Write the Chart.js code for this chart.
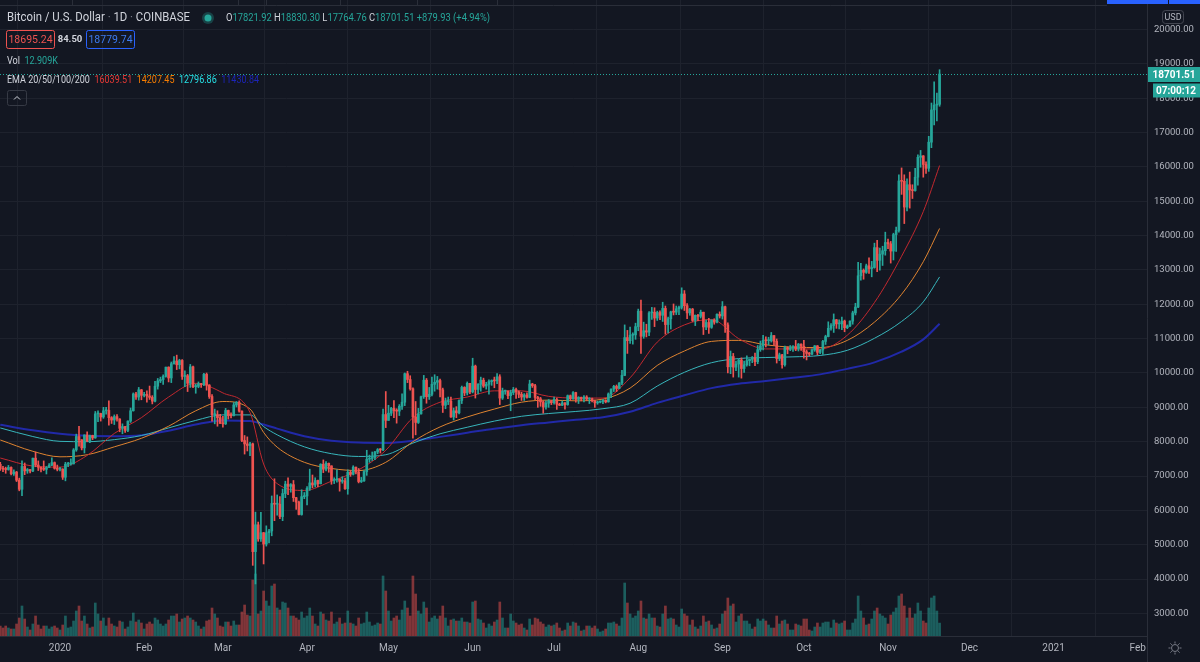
<!DOCTYPE html>
<html><head><meta charset="utf-8">
<script src="https://cdn.jsdelivr.net/npm/chart.js@4.4.0/dist/chart.umd.min.js"></script>
<style>html,body{margin:0;padding:0;background:#131722;overflow:hidden}canvas{display:block}</style>
</head><body>
<canvas id="c" width="1200" height="662"></canvas>
<script>
// ---- DATA (daily candles, BTC/USD Coinbase, 2019-12-10 .. 2020-11-20) ----
// day number of first candle, counted from 2020-01-01 = 0
const FIRST_DAY = -22;
const opens = [
 7340,7220,7200,7190,7250,7065,7115,6880,6615,7280,7150,7190,7145,7520,7320,7255,7200,7195,7250,7315,7390,7225,
 7195,7200,6965,7345,7355,7355,7760,8150,8055,7820,8195,8020,8180,8110,8810,8820,8720,8900,8910,8700,8630,8730,8660,8390,8440,8330,8600,8900,9390,9300,9510,
 9350,9380,9330,9290,9180,9615,9770,9810,9900,10170,9855,10270,10350,10240,10365,9900,9920,9700,10180,9600,9610,9690,9660,9960,9650,9315,8785,8790,8700,
 8530,8520,8910,8760,8755,9070,9150,8890,8035,7935,7890,7935,4800,5580,5170,5350,5020,5350,5400,6200,6180,6180,5820,6490,6765,6700,6750,6370,6240,5880,6400,
 6420,6640,6800,6740,6870,6775,7340,7200,7370,7295,6870,6890,6915,6845,6860,6630,7110,7050,7260,7120,6840,6860,7130,7490,7510,7540,7700,7770,7760,8790,
 8620,8830,8970,8900,8890,9030,9150,9980,9810,9540,8720,8560,8810,9310,9790,9310,9380,9670,9730,9780,9510,9060,9170,9180,8720,8900,8840,9200,9580,9420,9700,
 9450,10200,9520,9670,9790,9620,9670,9750,9780,9770,9890,9270,9470,9470,9340,9430,9520,9450,9380,9300,9360,9290,9680,9630,9290,9250,9160,9010,9120,9190,
 9135,9230,9090,9060,9130,9080,9340,9250,9430,9230,9290,9240,9300,9240,9250,9190,9130,9150,9170,9210,9160,9390,9530,9610,9550,9710,9930,11030,10940,11100,11110,
 11350,11800,11070,11230,11190,11750,11770,11600,11760,11680,11880,11410,11580,11780,11770,11870,11910,12300,11960,11750,11860,11530,11680,11650,11770,11340,11470,11330,11540,11480,11710,
 11660,11930,11400,10180,10480,10170,10260,10380,10130,10240,10360,10400,10440,10330,10680,10790,10950,10940,10940,11090,10920,10420,10530,10240,10740,10690,10730,10770,10700,10840,
 10780,10620,10570,10550,10670,10790,10600,10670,10920,11060,11300,11380,11550,11430,11430,11510,11320,11370,11510,11750,11920,12830,12990,12930,13120,13040,13070,13650,13280,13460,13560,
 13800,13760,13550,14030,14150,15590,15580,14830,15480,15330,15310,15700,16280,16320,16070,15960,16720,17660,17800,17821.92
];
const highs = [
 7400,7280,7260,7310,7270,7180,7135,6940,7440,7380,7220,7190,7520,7700,7440,7270,7440,7280,7360,7530,7410,7320,
 7250,7215,7400,7400,7500,7800,8220,8450,8060,8200,8290,8190,8190,8880,8900,8830,9000,9000,9190,8730,8780,8790,8670,8520,8450,8610,8980,9420,9440,9580,9520,
 9440,9480,9620,9340,9760,9840,9880,9950,10170,10180,10320,10480,10520,10400,10390,10060,9960,10250,10200,9680,9740,9700,9990,10000,9660,9370,8950,8900,8800,
 8740,8970,8920,8840,9140,9170,9190,8900,8180,8140,7980,7960,5950,5660,5940,5360,5550,5450,6420,6920,6450,6400,6620,6850,6950,6780,6870,6380,6270,6600,6520,
 6690,7200,7030,6950,6880,7360,7470,7420,7380,7300,6950,7180,6915,6980,6940,7180,7160,7300,7260,7220,6960,7160,7750,7610,7700,7720,7800,7800,8950,9460,
 9060,9000,9200,8960,9080,9390,10000,10050,9920,9570,9170,8970,9330,9930,9840,9580,9880,9950,9900,9820,9560,9270,9300,9300,8980,9020,9220,9620,9600,9740,9700,
 10430,10230,9690,9880,9850,9730,9800,9800,9880,9980,9950,9560,9500,9480,9500,9580,9560,9480,9440,9400,9420,9790,9700,9670,9320,9290,9190,9190,9230,9200,
 9300,9270,9120,9190,9140,9360,9360,9460,9440,9310,9300,9340,9340,9280,9270,9210,9180,9190,9230,9220,9420,9540,9640,9650,9720,10080,11400,11240,11340,11170,11450,
 11860,12120,11480,11420,11790,11910,11900,11800,11810,12060,11950,11630,11800,12010,11950,11950,12480,12400,12020,11880,11880,11690,11710,11830,11770,11540,11590,11550,11580,11720,11780,
 12080,11950,11460,10640,10570,10350,10400,10440,10350,10500,10400,10480,10580,10800,10930,11100,11050,11040,11180,11090,10990,10580,10540,10780,10760,10800,10800,10950,10860,10850,
 10950,10670,10600,10700,10800,10800,10690,10950,11100,11490,11440,11720,11560,11550,11630,11540,11400,11520,11800,12030,13220,13190,13030,13170,13350,13250,13780,13860,13640,13690,14100,
 13900,13830,14070,14250,15770,15970,15770,15650,15850,15480,15960,16350,16480,16330,16150,16890,17860,18480,18150,18830.30
];
const lows = [
 7160,7130,7080,7170,7030,7015,6840,6570,6430,7040,7080,7090,7130,7270,7160,7120,7160,7060,7240,7300,7200,7150,
 7150,6900,6860,7270,7320,7350,7720,7870,7760,7670,8000,7970,8060,8100,8580,8600,8680,8800,8480,8530,8500,8600,8290,8230,8270,8290,8560,8890,9230,9210,9220,
 9300,9150,9230,9100,9160,9530,9720,9670,9880,9740,9720,10260,10100,10120,9810,9600,9460,9580,9570,9410,9570,9580,9630,9500,9260,8600,8520,8450,8530,
 8420,8500,8660,8690,8750,9010,8860,8000,7640,7730,7590,4400,3858,5100,5100,4440,4960,5050,5260,5700,5860,5760,5700,6370,6460,6530,6260,6030,5870,5860,6340,
 6160,6580,6660,6680,6690,6770,7100,7150,7110,6760,6780,6820,6560,6790,6610,6470,6990,7030,7060,6800,6810,6840,7020,7400,7450,7480,7650,7670,7740,8410,
 8620,8760,8700,8540,8760,8940,9050,9720,9500,8100,8200,8530,8800,9260,9120,9230,9330,9470,9530,9300,8850,8960,9080,8710,8630,8700,8810,9110,9340,9360,9400,
 9420,9270,9390,9470,9580,9530,9380,9640,9570,9690,9080,9230,9380,9250,8900,9370,9260,9280,9200,9200,9270,9280,9580,9220,9000,9030,8830,8950,9000,9080,
 9090,8940,9050,9050,8950,9060,9200,9230,9150,9110,9190,9160,9200,9110,9160,9000,9090,9130,9110,9130,9150,9280,9460,9460,9540,9660,9920,10570,10860,10840,10980,
 11230,10570,11010,11050,11090,11560,11350,11530,11550,11500,11130,11170,11280,11690,11700,11700,11860,11820,11580,11680,11500,11380,11520,11600,11120,11260,11150,11300,11420,11460,11600,
 11570,11180,10000,9980,9880,10070,9880,9850,10020,10200,10210,10300,10210,10270,10630,10670,10760,10820,10900,10800,10290,10360,10140,10200,10560,10650,10630,10650,10640,10660,
 10430,10380,10500,10530,10630,10530,10560,10540,10830,11050,11250,11180,11300,11280,11260,11200,11290,11350,11420,11690,11900,12700,12730,12900,12900,12800,13050,12950,12990,13130,13430,
 13620,13200,13290,13540,14100,15200,14350,14720,14800,15080,15290,15470,15990,15700,15810,15870,16560,17220,17340,17764.76
];
const closes = [
 7220,7200,7190,7250,7065,7115,6880,6615,7280,7150,7190,7145,7520,7320,7255,7200,7195,7250,7315,7390,7225,7195,
 7200,6965,7345,7355,7355,7760,8150,8055,7820,8195,8020,8180,8110,8810,8820,8720,8900,8910,8700,8630,8730,8660,8390,8440,8330,8600,8900,9390,9300,9510,9350,
 9380,9330,9290,9180,9615,9770,9810,9900,10170,9855,10270,10350,10240,10365,9900,9920,9700,10180,9600,9610,9690,9660,9960,9650,9315,8785,8790,8700,8530,
 8520,8910,8760,8755,9070,9150,8890,8035,7935,7890,7935,4800,5580,5170,5350,5020,5350,5400,6200,6180,6180,5820,6490,6765,6700,6750,6370,6240,5880,6400,6420,
 6640,6800,6740,6870,6775,7340,7200,7370,7295,6870,6890,6915,6845,6860,6630,7110,7050,7260,7120,6840,6860,7130,7490,7510,7540,7700,7770,7760,8790,8620,
 8830,8970,8900,8890,9030,9150,9980,9810,9540,8720,8560,8810,9310,9790,9310,9380,9670,9730,9780,9510,9060,9170,9180,8720,8900,8840,9200,9580,9420,9700,9450,
 10200,9520,9670,9790,9620,9670,9750,9780,9770,9890,9270,9470,9470,9340,9430,9520,9450,9380,9300,9360,9290,9680,9630,9290,9250,9160,9010,9120,9190,9135,
 9230,9090,9060,9130,9080,9340,9250,9430,9230,9290,9240,9300,9240,9250,9190,9130,9150,9170,9210,9160,9390,9530,9610,9550,9710,9930,11030,10940,11100,11110,11350,
 11800,11070,11230,11190,11750,11770,11600,11760,11680,11880,11410,11580,11780,11770,11870,11910,12300,11960,11750,11860,11530,11680,11650,11770,11340,11470,11330,11540,11480,11710,11660,
 11930,11400,10180,10480,10170,10260,10380,10130,10240,10360,10400,10440,10330,10680,10790,10950,10940,10940,11090,10920,10420,10530,10240,10740,10690,10730,10770,10700,10840,10780,
 10620,10570,10550,10670,10790,10600,10670,10920,11060,11300,11380,11550,11430,11430,11510,11320,11370,11510,11750,11920,12830,12990,12930,13120,13040,13070,13650,13280,13460,13560,13800,
 13760,13550,14030,14150,15590,15580,14830,15480,15330,15310,15700,16280,16320,16070,15960,16720,17660,17800,17820,18701.51
];
// volume, thousands of BTC
const volumes = [
 10,8,10,8,7,7,12,18,30,17,9,6,12,20,11,7,10,10,7,9,10,8,
 6,11,20,8,9,15,25,30,15,20,12,8,9,33,22,15,18,10,18,12,10,9,15,14,7,9,15,23,14,16,13,
 7,12,14,12,18,16,12,10,12,16,20,20,22,14,17,18,20,18,16,14,10,7,9,15,16,28,22,18,10,
 9,14,14,10,15,11,11,24,31,21,20,56,62,22,25,45,35,30,50,52,28,26,34,33,28,20,20,18,16,24,18,
 20,28,20,12,10,24,22,16,15,24,12,14,18,12,13,25,13,12,10,18,12,13,24,14,10,11,13,12,60,45,
 25,15,18,20,16,26,35,28,20,60,42,25,22,34,28,14,18,20,17,20,30,18,10,16,17,15,15,18,14,14,13,
 34,35,17,16,13,8,12,10,14,16,34,18,8,8,22,15,13,11,12,8,6,17,11,18,17,14,12,9,11,10,
 11,13,8,5,6,13,10,14,13,10,5,6,10,10,8,10,7,4,5,7,13,13,14,12,10,18,53,33,22,18,20,
 25,35,18,17,22,18,18,10,9,22,30,17,18,17,11,9,27,22,20,11,16,9,7,10,20,14,15,11,7,8,12,
 22,25,38,30,32,14,20,22,15,15,12,7,9,17,15,17,15,11,8,8,20,12,15,16,12,6,6,12,11,10,
 17,17,6,5,9,13,9,13,14,14,8,16,13,12,13,15,6,6,13,17,40,25,18,11,12,17,25,28,22,20,18,
 12,21,24,28,40,42,30,18,28,18,22,33,25,15,13,28,38,40,25,12.909
];
// EMA readings (sampled days, same day numbering)
const emaDays = [-22,-10,0,10,20,30,40,50,60,70,75,80,90,100,110,120,130,140,150,160,170,180,190,200,210,220,230,240,250,260,270,280,290,300,310,318,324];
const ema20  = [7525,7290,7260,7600,8240,8700,9300,9700,9420,8850,7350,6780,6580,6850,7180,7750,8700,9150,9300,9480,9480,9320,9270,9270,9860,10900,11400,11560,11000,10700,10700,10700,11100,12050,13400,14700,16039.51];
const ema50  = [8050,7720,7560,7620,7850,8100,8450,8900,9170,8950,8270,7840,7400,7220,7160,7400,8000,8430,8720,8950,9150,9210,9190,9240,9560,10220,10640,10920,10950,10820,10750,10740,10950,11480,12290,13240,14207.45];
const ema100 = [8400,8150,8010,8000,8060,8180,8400,8620,8780,8780,8440,8200,7850,7650,7570,7620,7960,8230,8420,8600,8740,8820,8880,8960,9120,9620,10020,10300,10420,10450,10470,10510,10660,11010,11500,12070,12796.86];
const ema200 = [8490,8330,8230,8170,8160,8190,8320,8500,8620,8600,8500,8380,8160,8030,7975,7965,8030,8140,8260,8380,8480,8560,8640,8710,8870,9130,9350,9560,9690,9770,9860,9960,10120,10310,10620,10980,11430.84];
// axis ticks
const monthTickDays = [0,31,60,91,121,152,182,213,244,274,305,335,366,397];
const monthLabels = ['2020','Feb','Mar','Apr','May','Jun','Jul','Aug','Sep','Oct','Nov','Dec','2021','Feb'];
const priceTicks = [3000,4000,5000,6000,7000,8000,9000,10000,11000,12000,13000,14000,15000,16000,17000,18000,19000,20000];

// ---- CHART ----
[opens,highs,lows,volumes].forEach((a,k)=>{ if(a.length!==closes.length) throw new Error('length mismatch '+k+': '+a.length+' vs '+closes.length); });
[ema20,ema50,ema100,ema200].forEach((a,k)=>{ if(a.length!==emaDays.length) throw new Error('ema length mismatch '+k); });

const UP='#26a69a', DN='#ef5350';
const BG='#131722', GRID='#1e222d', AXIS='#2a2e39', TXT='#b2b5be', HEAD='#d1d4dc';
const FONT='Roboto';
Chart.defaults.font.family = FONT;

const isUp = i => closes[i] >= opens[i];
const dayOf = i => FIRST_DAY + i;
const wickData = closes.map((c,i)=>({x:dayOf(i), y:[lows[i], highs[i]]}));
const bodyData = closes.map((c,i)=>({x:dayOf(i), y:[opens[i], c]}));
const volData  = volumes.map((v,i)=>({x:dayOf(i), y:v}));
const emaLine = (arr,color,w)=>({type:'line', data:emaDays.map((d,i)=>({x:d,y:arr[i]})), borderColor:color, borderWidth:w,
  pointRadius:0, fill:false, cubicInterpolationMode:'monotone', order:2, yAxisID:'y'});

const overlay = {
  id:'overlay',
  beforeDraw(chart){ const c=chart.ctx; c.save(); c.fillStyle=BG; c.fillRect(0,0,chart.width,chart.height); c.restore(); },
  afterDraw(chart){
    const c=chart.ctx, ys=chart.scales.y, a=chart.chartArea;
    c.save();
    c.lineWidth=1;
    // axis separator continuing through the time scale
    c.strokeStyle=AXIS;
    c.beginPath(); c.moveTo(Math.round(a.right)+0.5, a.bottom); c.lineTo(Math.round(a.right)+0.5, 662); c.stroke();
    // top strip
    c.beginPath(); c.moveTo(0,5.5); c.lineTo(1107,5.5); c.stroke();
    [72,238,266,340,417,497].forEach(x=>{ c.beginPath(); c.moveTo(x+0.5,0); c.lineTo(x+0.5,5); c.stroke(); });
    c.fillStyle='#2962ff'; c.fillRect(1107,0,61,4); c.fillRect(1169,0,31,4);
    // last price line + tags
    const last = closes[closes.length-1];
    const yp = Math.round(ys.getPixelForValue(last))+0.5;
    c.strokeStyle=UP; c.setLineDash([1,2]);
    c.beginPath(); c.moveTo(0,yp); c.lineTo(a.right,yp); c.stroke(); c.setLineDash([]);
    c.fillStyle=UP;
    c.fillRect(a.right+1, yp-7.5, 53, 15);
    c.fillRect(a.right+6, yp+9, 47, 14);
    c.fillStyle='#ffffff'; c.font='bold 10px '+FONT; c.textAlign='center'; c.textBaseline='middle';
    c.fillText(last.toFixed(2), a.right+27, yp+0.5);
    c.fillText('07:00:12', a.right+29, yp+16.5);
    // USD box
    c.strokeStyle='#434651'; c.beginPath(); c.roundRect(1162.5,10.5,21,13,3); c.stroke();
    c.fillStyle=TXT; c.font='9px '+FONT; c.fillText('USD',1173,17.5);
    // gear icon
    const gx=1175, gy=648;
    c.strokeStyle='#787b86'; c.lineWidth=1;
    c.beginPath(); c.arc(gx,gy,3.5,0,Math.PI*2); c.stroke();
    for(let k=0;k<8;k++){ const t=k*Math.PI/4; c.beginPath(); c.moveTo(gx+Math.cos(t)*4.5,gy+Math.sin(t)*4.5); c.lineTo(gx+Math.cos(t)*6.5,gy+Math.sin(t)*6.5); c.stroke(); }
    // header legend: runs of coloured text squeezed to the reference widths
    c.textAlign='left'; c.textBaseline='middle';
    const fitSeq=(parts,x0,x1,y)=>{
      const w = parts.reduce((s,[t])=>s+c.measureText(t).width,0);
      c.save(); c.translate(x0,y); c.scale(Math.min(1,(x1-x0)/w),1);
      let x=0; for(const [t,col] of parts){ c.fillStyle=col; c.fillText(t,x,0); x+=c.measureText(t).width; }
      c.restore();
    };
    c.font='12px '+FONT;
    fitSeq([['Bitcoin / U.S. Dollar',HEAD],[' · ','#787b86'],['1D',HEAD],[' · ','#787b86'],['COINBASE',HEAD]],7,190,18);
    c.fillStyle='rgba(38,166,154,0.3)'; c.beginPath(); c.arc(208,18,6,0,Math.PI*2); c.fill();
    c.fillStyle=UP; c.beginPath(); c.arc(208,18,3.5,0,Math.PI*2); c.fill();
    c.font='11px '+FONT;
    fitSeq([['O',HEAD],['17821.92',UP],[' H',HEAD],['18830.30',UP],[' L',HEAD],['17764.76',UP],[' C',HEAD],['18701.51',UP],[' +879.93 (+4.94%)',UP]],226,490,18);
    // bid/ask row
    c.lineWidth=1;
    c.strokeStyle=DN; c.beginPath(); c.roundRect(6.5,30.5,48,18,2); c.stroke();
    c.strokeStyle='#2962ff'; c.beginPath(); c.roundRect(86.5,30.5,48,18,2); c.stroke();
    c.font='10.5px '+FONT;
    c.textAlign='center';
    c.fillStyle=DN; c.fillText('18695.24',30.5,40);
    c.fillStyle='#3d7bf0'; c.fillText('18779.74',110.5,40);
    c.fillStyle=HEAD; c.font='bold 9.5px '+FONT; c.fillText('84.50',70,40);
    c.textAlign='left'; c.font='11px '+FONT;
    fitSeq([['Vol',HEAD],['  12.909K',UP]],7,58,61);
    fitSeq([['EMA 20/50/100/200',HEAD],['  16039.51','#e53935'],['  14207.45','#f57c00'],['  12796.86','#26e0e6'],['  11430.84','#1c24b8']],7,259,80);
    // collapse button
    c.strokeStyle='#363a45'; c.beginPath(); c.roundRect(7.5,90.5,19,15,2); c.stroke();
    c.strokeStyle=HEAD; c.beginPath(); c.moveTo(14,99.5); c.lineTo(17,96.5); c.lineTo(20,99.5); c.stroke();
    c.restore();
  }
};

new Chart(document.getElementById('c'), {
  type:'bar',
  data:{ datasets:[
    {label:'wicks', data:wickData, grouped:false, barThickness:1, borderWidth:0,
     backgroundColor:ctx=>isUp(ctx.dataIndex)?UP:DN, order:1, yAxisID:'y'},
    {label:'bodies', data:bodyData, grouped:false, barThickness:2, minBarLength:1, borderWidth:0,
     backgroundColor:ctx=>isUp(ctx.dataIndex)?UP:DN, order:0, yAxisID:'y'},
    {label:'volume', data:volData, grouped:false, barThickness:2, borderWidth:0,
     backgroundColor:ctx=>isUp(ctx.dataIndex)?'rgba(38,166,154,0.5)':'rgba(239,83,80,0.5)', order:5, yAxisID:'yv'},
    emaLine(ema20,'#c2282f',1),
    emaLine(ema50,'#de8330',1),
    emaLine(ema100,'#37b5bb',1),
    emaLine(ema200,'#2129a8',2)
  ]},
  options:{
    responsive:false, animation:false, devicePixelRatio:1, events:[],
    layout:{padding:0},
    plugins:{legend:{display:false}, tooltip:{enabled:false}},
    scales:{
      x:{type:'linear', min:-22.1, max:400.4, offset:false,
         grid:{color:GRID, drawTicks:false}, border:{color:AXIS},
         ticks:{color:TXT, font:{size:10}, padding:6, autoSkip:false, maxRotation:0, callback:(v,i)=>monthLabels[i]},
         afterBuildTicks:s=>{ s.ticks = monthTickDays.map(v=>({value:v})); },
         afterFit:s=>{ s.height=26; s.paddingLeft=0; s.paddingRight=0; }},
      y:{type:'linear', position:'right', min:2343, max:20859,
         grid:{color:GRID, drawTicks:false}, border:{color:AXIS},
         ticks:{color:TXT, font:{size:9.5}, padding:7, callback:v=>Number(v).toFixed(2)},
         afterBuildTicks:s=>{ s.ticks = priceTicks.map(v=>({value:v})); },
         afterFit:s=>{ s.width=53; s.paddingTop=0; s.paddingBottom=0; }},
      yv:{type:'linear', display:false, min:0, max:636}
    }
  },
  plugins:[overlay]
});
</script>
</body></html>
